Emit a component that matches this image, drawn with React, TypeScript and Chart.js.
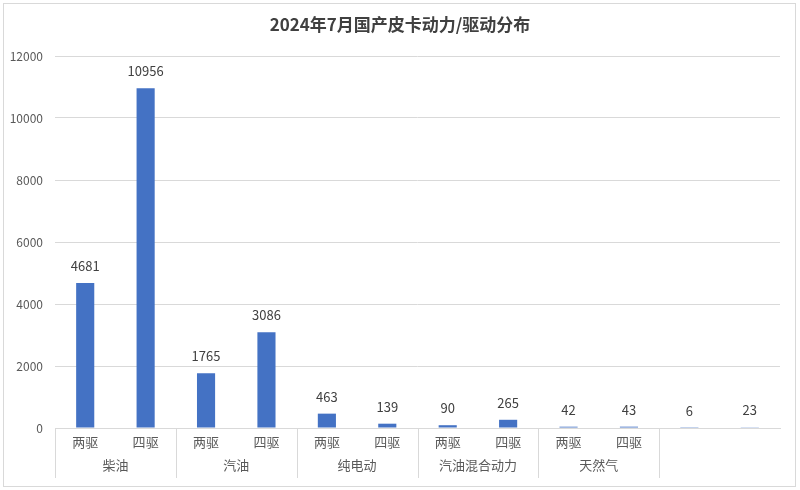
import { useEffect, useRef } from "react";
import { Chart, registerables } from "chart.js";

Chart.register(...registerables);

const title = "2024年7月国产皮卡动力/驱动分布";
const driveLabels = ["两驱", "四驱", "两驱", "四驱", "两驱", "四驱", "两驱", "四驱", "两驱", "四驱", "", ""];
const groupLabels = ["柴油", "汽油", "纯电动", "汽油混合动力", "天然气", ""];
const sales = [4681, 10956, 1765, 3086, 463, 139, 90, 265, 42, 43, 6, 23];
const yTicks = [0, 2000, 4000, 6000, 8000, 10000, 12000];

const FONT = "'Noto Sans CJK SC', 'Noto Sans', sans-serif";

const decorPlugin = {
  id: "decor",
  afterDatasetsDraw(chart: Chart) {
    const { ctx } = chart;
    const meta = chart.getDatasetMeta(0);
    ctx.save();
    ctx.font = `13px ${FONT}`;
    ctx.fillStyle = "#404040";
    ctx.textAlign = "center";
    ctx.textBaseline = "middle";
    meta.data.forEach((bar: any, i: number) => {
      ctx.fillText(String(sales[i]), bar.x, bar.y - 17);
    });
    ctx.restore();
  },
  afterDraw(chart: Chart) {
    const { ctx, chartArea, width } = chart;
    const xs = chart.scales.x;
    ctx.save();
    // outer frame
    ctx.strokeStyle = "#d9d9d9";
    ctx.lineWidth = 1;
    ctx.strokeRect(3.5, 3.5, width - 8, 483);
    // title
    ctx.font = `bold 17px ${FONT}`;
    ctx.fillStyle = "#404040";
    ctx.textAlign = "center";
    ctx.textBaseline = "middle";
    ctx.fillText(title, 400, 25);
    // group separators (the last group's edges are hidden in the source)
    const step = xs.getPixelForValue(1) - xs.getPixelForValue(0);
    ctx.strokeStyle = "#d9d9d9";
    for (let g = 0; g < groupLabels.length; g++) {
      const x = Math.round(xs.getPixelForValue(g * 2) - step / 2) + 0.5;
      ctx.beginPath();
      ctx.moveTo(x, chartArea.bottom);
      ctx.lineTo(x, chartArea.bottom + 50);
      ctx.stroke();
    }
    ctx.font = `13px ${FONT}`;
    ctx.fillStyle = "#595959";
    groupLabels.forEach((g, i) => {
      const x = (xs.getPixelForValue(i * 2) + xs.getPixelForValue(i * 2 + 1)) / 2;
      ctx.fillText(g, x, chartArea.bottom + 37);
    });
    ctx.restore();
  },
};

export default function App() {
  const canvasRef = useRef<HTMLCanvasElement>(null);
  const chartRef = useRef<Chart | null>(null);

  useEffect(() => {
    document.body.style.margin = "0";
    if (!canvasRef.current) return;
    if (chartRef.current) chartRef.current.destroy();
    const ctx = canvasRef.current.getContext("2d");
    if (!ctx) return;

    chartRef.current = new Chart(ctx, {
      type: "bar",
      data: {
        labels: driveLabels,
        datasets: [
          {
            data: sales,
            backgroundColor: "#4472C4",
            barPercentage: 0.3,
            categoryPercentage: 1,
          },
        ],
      },
      options: {
        animation: false,
        responsive: true,
        maintainAspectRatio: false,
        layout: { padding: { top: 56, right: 20, left: 0, bottom: 0 } },
        plugins: {
          legend: { display: false },
          tooltip: { enabled: false },
        },
        scales: {
          x: {
            grid: { display: false, drawTicks: false },
            border: { color: "#d9d9d9" },
            ticks: {
              color: "#595959",
              font: { family: FONT, size: 13 },
              padding: 6,
              maxRotation: 0,
              autoSkip: false,
            },
            afterFit: (scale: any) => {
              scale.height = 62;
            },
          },
          y: {
            min: 0,
            max: 12000,
            afterBuildTicks: (scale: any) => {
              scale.ticks = yTicks.map((v) => ({ value: v }));
            },
            grid: { color: "#d9d9d9", drawTicks: false },
            border: { display: false },
            ticks: {
              color: "#595959",
              font: { family: FONT, size: 12 },
              padding: 12,
              callback: (v: any) => String(v),
            },
            afterFit: (scale: any) => {
              scale.width = 55;
            },
          },
        },
      },
      plugins: [decorPlugin],
    });

    return () => {
      if (chartRef.current) chartRef.current.destroy();
    };
  }, []);

  return (
    <div style={{ width: 800, height: 490, background: "#fff" }}>
      <canvas ref={canvasRef} />
    </div>
  );
}
